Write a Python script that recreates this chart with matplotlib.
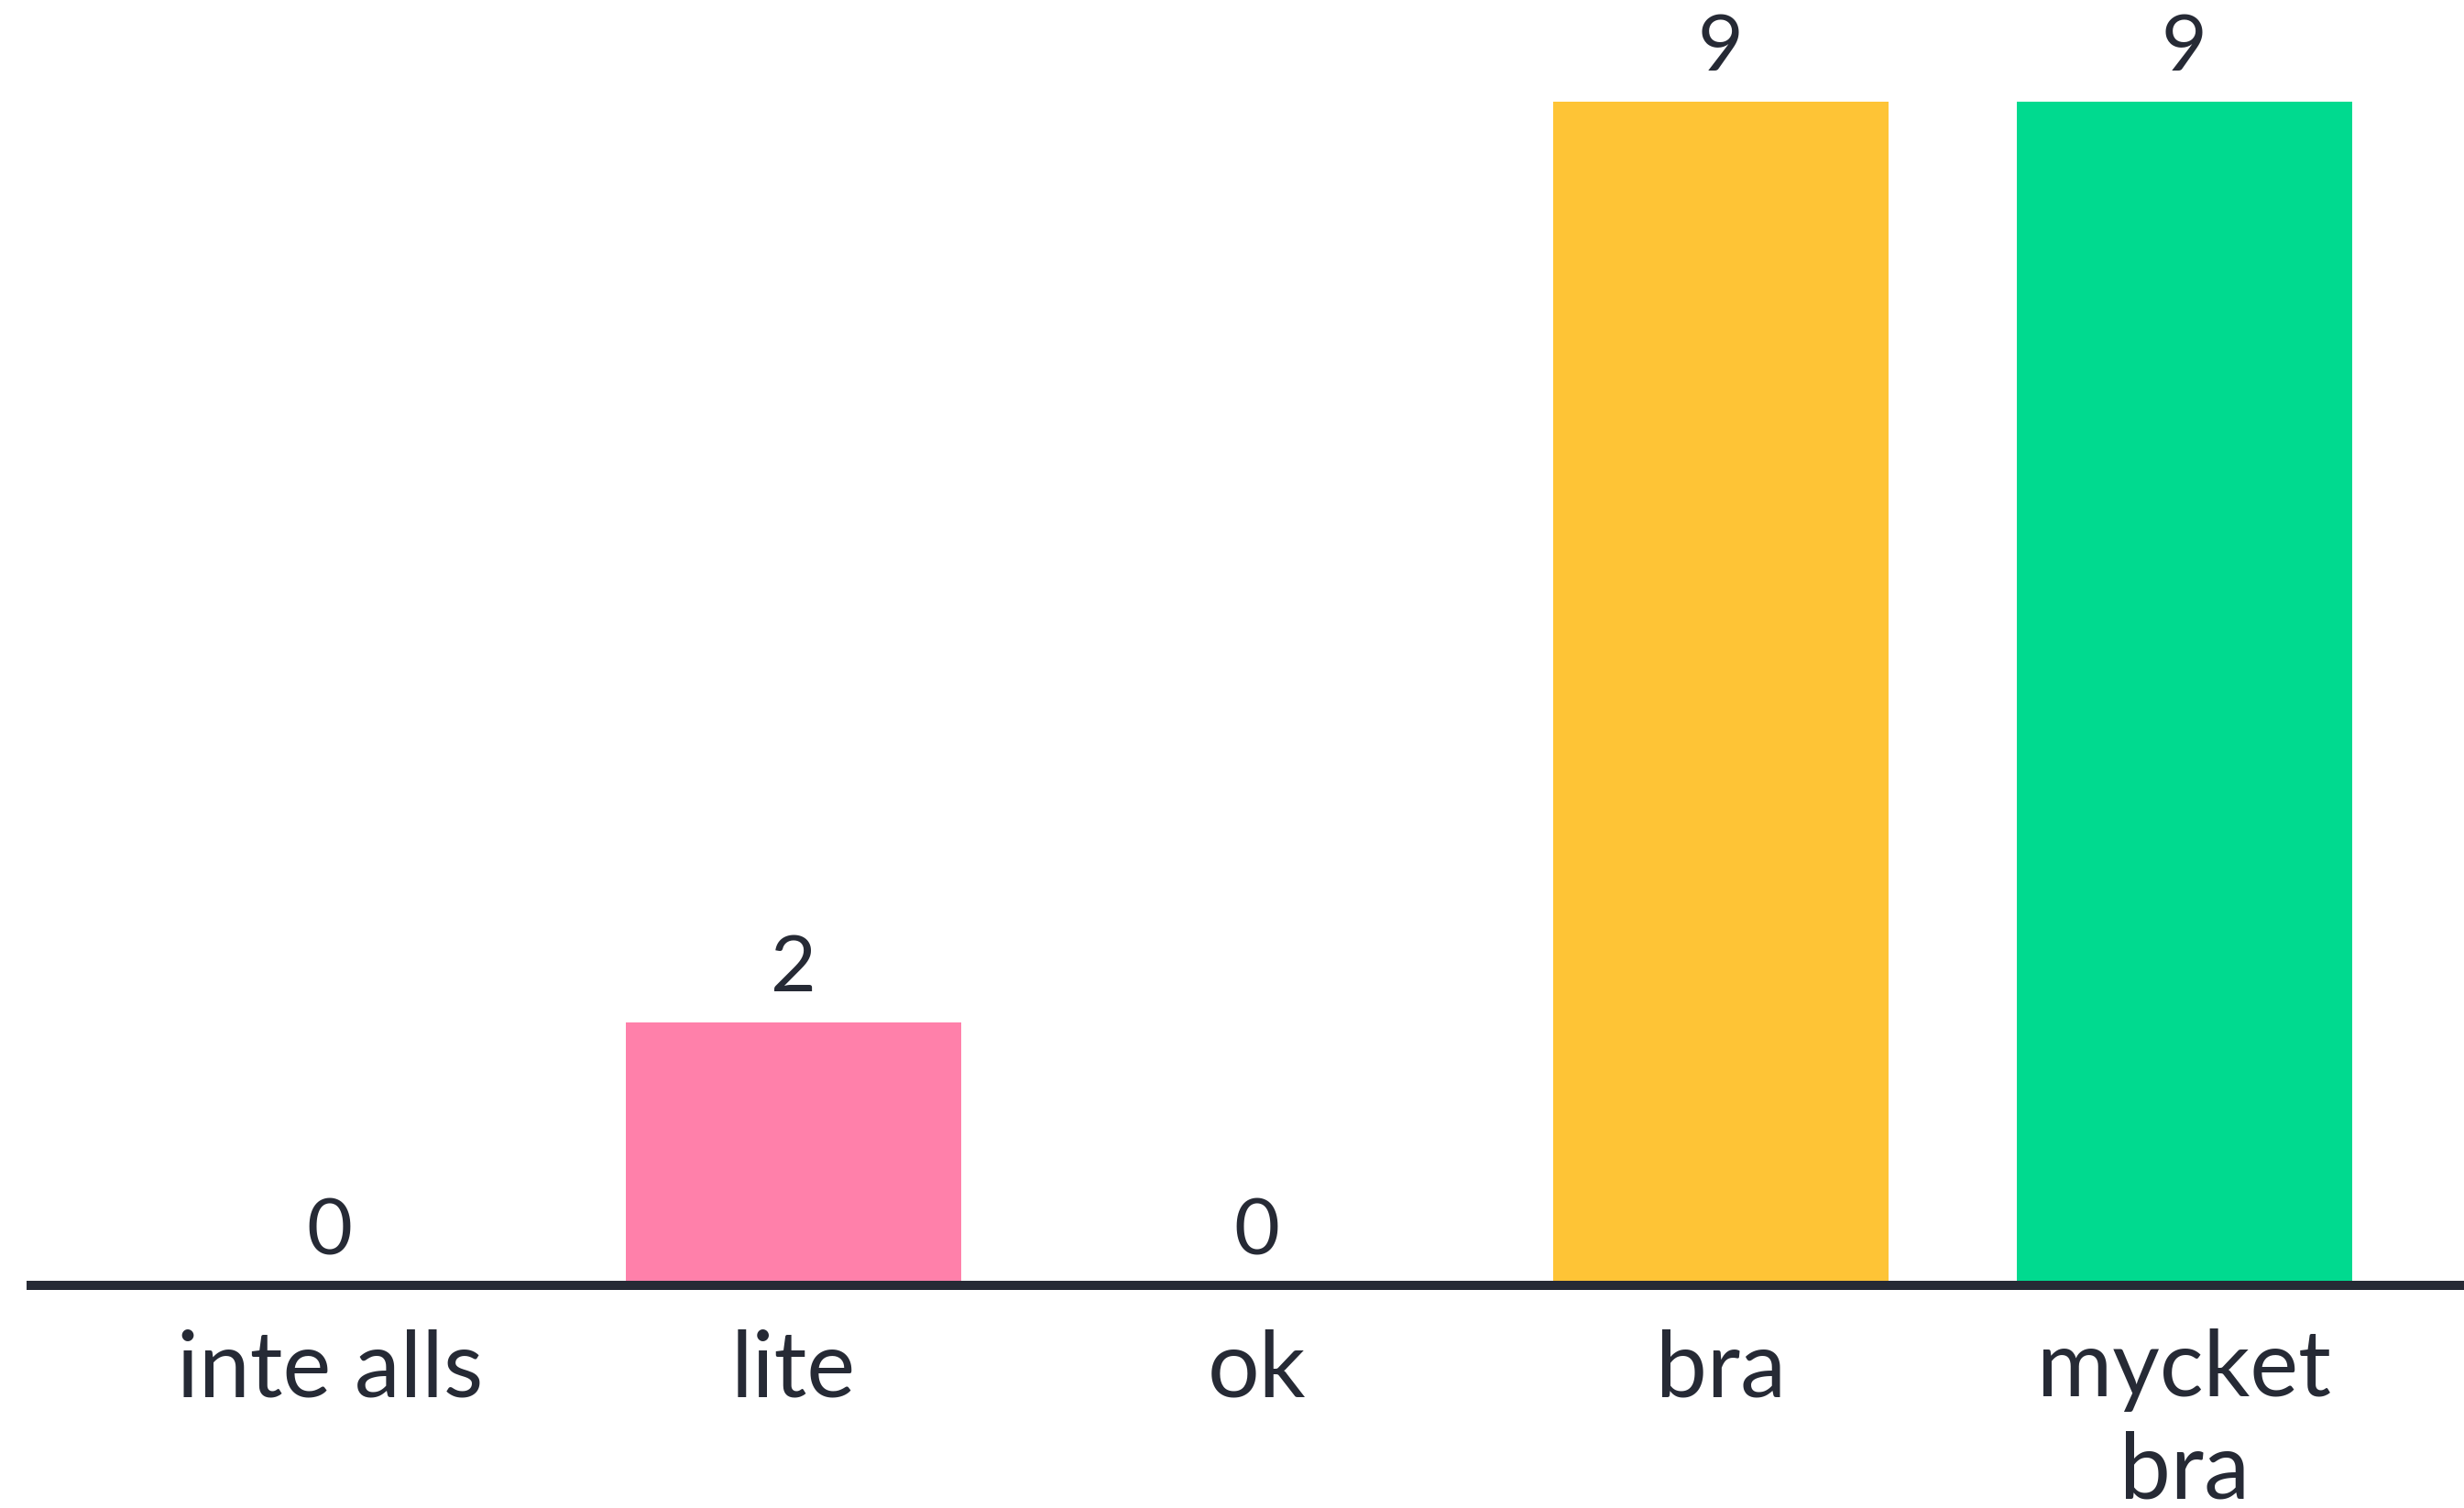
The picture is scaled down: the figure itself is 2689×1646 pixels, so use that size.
import numpy as np
import matplotlib.pyplot as plt

# data
categories = ["inte alls", "lite", "ok", "bra", "mycket\nbra"]
values = [0, 2, 0, 9, 9]
colors = ["#8c8c8c", "#ff80aa", "#6ec3e6", "#fec436", "#00da8f"]

ink = "#262a35"
plt.rcParams['font.family'] = ['Lato', 'DejaVu Sans']

fig = plt.figure(figsize=(26.89, 16.46), dpi=100)
# axes spans from the left end of the baseline to the right edge
ax = fig.add_axes([34 / 2689, (1646 - 1403) / 1646, 1 - 34 / 2689, 1403 / 1646])

x = np.arange(len(categories))
ax.bar(x, values, width=0.722, color=colors, zorder=1)

for xi, v in zip(x, values):
    ax.annotate(str(v), (xi, v), xytext=(0, 24), textcoords="offset points",
                ha="center", va="baseline", fontsize=62, color=ink)

ax.set_xlim(-0.644, 4.603)
ax.set_ylim(0, 9.77)

ax.set_xticks(x)
ax.set_xticklabels(categories, fontsize=72, color=ink, linespacing=1.28)
ax.tick_params(axis="x", length=0, pad=34)
ax.set_yticks([])

for s in ["top", "right", "left"]:
    ax.spines[s].set_visible(False)
ax.spines["bottom"].set_color(ink)
ax.spines["bottom"].set_linewidth(7.2)
ax.spines["bottom"].set_zorder(3)

fig.savefig("out.png", dpi=100)
